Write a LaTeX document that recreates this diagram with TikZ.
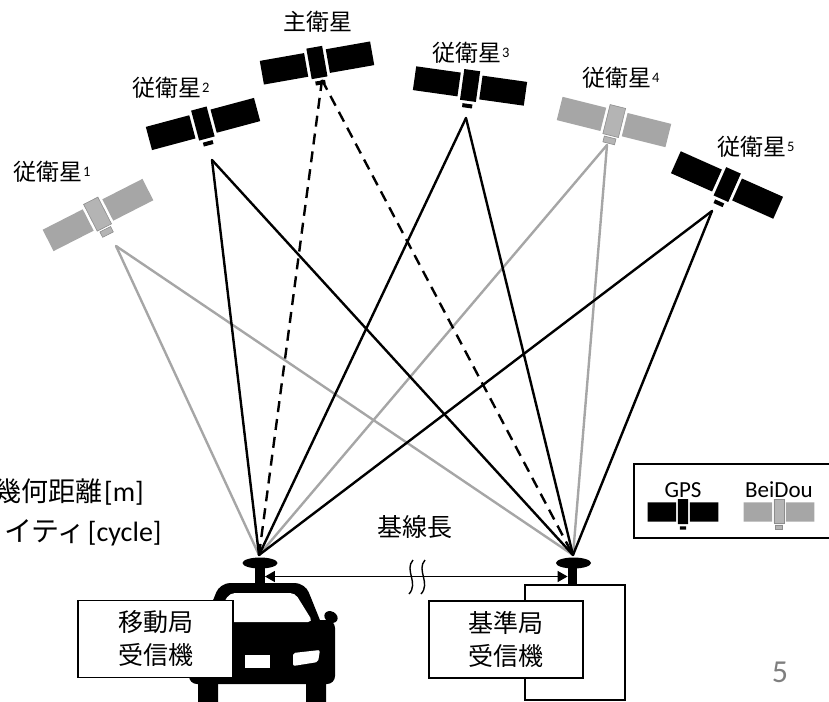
\documentclass[tikz,border=0pt]{standalone}
\usepackage{fontspec}
\setmainfont{Carlito}
\newfontfamily\jp{Noto Sans CJK JP}
\usetikzlibrary{arrows.meta,shapes.geometric}
\definecolor{bdgray}{HTML}{A6A6A6}
\definecolor{bdcore}{HTML}{B4B4B4}
\definecolor{pagegray}{HTML}{7F7F7F}
\newcommand\supnum[1]{\hspace{1pt}\raisebox{4.5pt}{\normalfont\fontsize{14.5}{14.5}\selectfont #1}}

\begin{document}
\begin{tikzpicture}[x=1pt,y=-1pt,
  sig/.style={line width=2.4pt, line cap=round},
  gpsline/.style={sig, draw=black},
  bdline/.style={sig, draw=bdgray},
  mainline/.style={line width=2.4pt, draw=black, dash pattern=on 11pt off 7pt},
  satlabel/.style={font=\jp\fontsize{23}{23}\selectfont, inner sep=0pt},
  rxbox/.style={draw, line width=1.6pt, fill=white, inner sep=0pt,
    minimum width=155pt, minimum height=77pt, align=center,
    font=\jp\fontsize{25}{33}\selectfont},
  antenna/.style={ellipse, fill=black, inner sep=0pt, minimum width=35pt, minimum height=11pt},
  stem/.style={fill=black, inner sep=0pt, minimum width=9.5pt, minimum height=17pt},
  gpssat/.pic={
    \fill[black] (-56,-12) rectangle (-11,12) (-8,-16) rectangle (8,15)
      (11,-12) rectangle (56,12) (-5,18) rectangle (5,22);
  },
  bdsat/.pic={
    \fill[bdgray] (-56,-12) rectangle (-11,12) (11,-12) rectangle (56,12);
    \filldraw[fill=bdcore, draw=bdgray!85!black, line width=0.6pt]
      (-8,-16) rectangle (8,14) (-6,16) rectangle (6,22);
  }
]
\useasboundingbox (0,0) rectangle (829,701);

% satellites
\pic[rotate=27] at (98,215) {bdsat};
\pic[rotate=15] at (203,124) {gpssat};
\pic[rotate=10] at (317,63) {gpssat};
\pic[rotate=-8] at (470,86) {gpssat};
\pic[rotate=-14] at (614,122) {bdsat};
\pic[rotate=-24] at (727,185) {gpssat};

% satellite names
\node[satlabel, anchor=west] (n1) at (13,172) {従衛星\supnum{1}};
\node[satlabel, anchor=west] (n2) at (132,88) {従衛星\supnum{2}};
\node[satlabel] (n0) at (318,22) {主衛星};
\node[satlabel, anchor=west] (n3) at (432,53) {従衛星\supnum{3}};
\node[satlabel, anchor=west] (n4) at (582,78) {従衛星\supnum{4}};
\node[satlabel, anchor=west] (n5) at (717,147) {従衛星\supnum{5}};

% signal origins and receiving points
\coordinate (s1) at (116,246);
\coordinate (s2) at (212,160);
\coordinate (s0) at (322,80);
\coordinate (s3) at (466,118);
\coordinate (s4) at (607,145);
\coordinate (s5) at (712,211);
\coordinate (rover) at (259,555);
\coordinate (base) at (573,555);

% signal paths
\draw[bdline] (s1) -- (rover);
\draw[bdline] (s1) -- (base);
\draw[bdline] (s4) -- (rover);
\draw[bdline] (s4) -- (base);
\draw[gpsline] (s2) -- (rover);
\draw[gpsline] (s2) -- (base);
\draw[gpsline] (s3) -- (rover);
\draw[gpsline] (s3) -- (base);
\draw[gpsline] (s5) -- (rover);
\draw[gpsline] (s5) -- (base);
\draw[mainline] (s0) -- (rover);
\draw[mainline] (s0) -- (base);

% left-side annotation
\node[inner sep=0pt, anchor=west, font=\fontsize{28}{28}\selectfont] (geo) at (-6,492)
  {{\jp\fontsize{27}{27}\selectfont 幾何距離}\hspace{2pt}[m]};
\node[inner sep=0pt, anchor=west, font=\fontsize{28}{28}\selectfont] (amb) at (4,533)
  {{\jp\fontsize{28}{28}\selectfont イティ}\hspace{2pt}[cycle]};

% car (rover)
\fill[black, rounded corners=10] (197,640) -- (220,583) -- (305,583) -- (328,640) -- cycle;
\fill[black, rounded corners=8] (189,620) rectangle (335,684);
\fill[black, rotate around={-30:(331,617)}] (331,617) ellipse [x radius=7, y radius=5.5];
\fill[white, rounded corners=5] (211,622) -- (230,593) -- (295,593) -- (313,622) -- cycle;
\fill[white, rounded corners=2] (293,653) -- (320,650) -- (318,662) -- (293,666) -- cycle;
\fill[white] (245,655) rectangle (270,668);
\fill[black, rounded corners=3] (198,676) rectangle (218,706);
\fill[black, rounded corners=3] (306,676) rectangle (326,706);

% reference station housing
\draw[line width=1.6pt] (525,585) rectangle (625,700);

% antennas
\node[stem] (rstem) at (260,576.5) {};
\node[stem, minimum height=18pt] (bstem) at (572.5,576.5) {};
\node[antenna] (rant) at (260,563) {};
\node[antenna] (bant) at (573.5,563) {};

% baseline
\draw[line width=1.5pt, {Triangle[length=10pt,width=11pt]}-{Triangle[length=10pt,width=11pt]}]
  (rstem.east) -- (bstem.west);
\draw[line width=1.4pt] (413,560) .. controls (404,570) and (419,583) .. (409,594);
\draw[line width=1.4pt] (425,560) .. controls (416,570) and (431,583) .. (421,594);
\node[font=\jp\fontsize{25}{25}\selectfont, inner sep=0pt] (blen) at (415,527) {基線長};

% receiver labels
\node[rxbox] (rrx) at (155.5,639) {移動局\\受信機};
\node[rxbox, minimum width=154pt] (brx) at (506,639.5) {基準局\\受信機};

% legend
\node[draw, line width=1.5pt, anchor=north west, inner sep=0pt,
  minimum width=215pt, minimum height=74pt] (legend) at (633,463) {};
\node[font=\fontsize{23}{23}\selectfont, inner sep=0pt] (lgps) at (683,490) {GPS};
\node[font=\fontsize{23}{23}\selectfont, inner sep=0pt] (lbd) at (779,490) {BeiDou};
\pic[xscale=0.63, yscale=0.8] at (683,512) {gpssat};
\pic[xscale=0.63, yscale=0.8] at (779,512) {bdsat};

% page number
\node[text=pagegray, font=\fontsize{32}{32}\selectfont, inner sep=0pt] (pg) at (780,672) {5};
\end{tikzpicture}
\end{document}
